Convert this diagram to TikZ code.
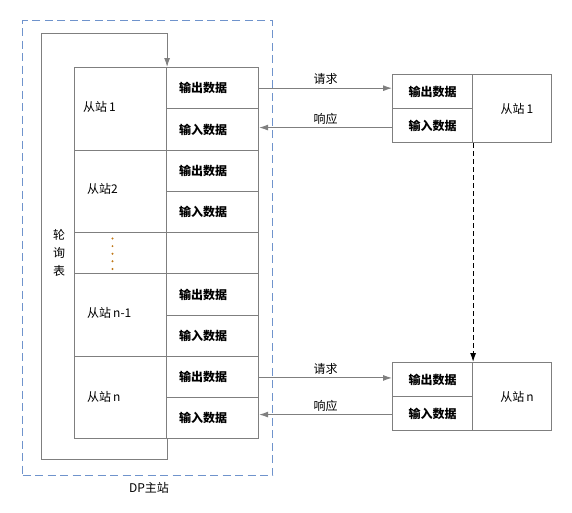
\documentclass[tikz,border=0pt]{standalone}
\usepackage{fontspec}
\setmainfont{Noto Sans CJK SC}
\usetikzlibrary{arrows.meta}
\definecolor{linegray}{HTML}{7F7F7F}
\definecolor{dashblue}{HTML}{6F93CC}
\definecolor{dotorange}{HTML}{C07818}
\tikzset{
  txt/.style={font=\fontsize{12}{14}\selectfont, inner sep=0pt},
  btxt/.style={font=\fontsize{12}{14}\selectfont\bfseries, inner sep=0pt},
  cell/.style={draw=linegray, line width=1.1pt, anchor=north west, inner sep=0pt},
  conn/.style={draw=linegray, line width=1pt, -{Latex[length=9pt,width=6pt]}},
}
\begin{document}
\begin{tikzpicture}[x=1pt,y=-1pt]
\useasboundingbox (0,0) rectangle (572,512);
% master dashed container
\node[draw=dashblue, dash pattern=on 8pt off 4.5pt, line width=1.3pt, minimum width=250pt, minimum height=455pt, anchor=north west, inner sep=0pt] (master) at (22,20) {};
\node[txt] (mlabel) at (149,488) {DP主站};
% left column
\node[cell, minimum width=92pt, minimum height=82.5pt] (s1) at (74,67) {};
\node[cell, minimum width=92pt, minimum height=82.5pt] (s2) at (74,149.5) {};
\node[cell, minimum width=92pt, minimum height=41.25pt] (sd) at (74,232) {};
\node[cell, minimum width=92pt, minimum height=82.5pt] (sn1) at (74,273.25) {};
\node[cell, minimum width=92pt, minimum height=82.5pt] (sn) at (74,355.75) {};
\node[txt, anchor=west] (t1) at (83,107) {从站\,1};
\node[txt, anchor=west] (t2) at (87,189) {从站2};
\node[txt, anchor=west] (t3) at (87,313) {从站\,n-1};
\node[txt, anchor=west] (t4) at (87,397) {从站\,n};
% dots
\foreach \k in {0,...,4} \fill[dotorange] (112.5,238.5+7.6*\k) circle (1.1pt);
% right column cells
\foreach \nm/\i/\lab in {o1/0/输出数据, i1/1/输入数据, o2/2/输出数据, i2/3/输入数据, e/4/, on1/5/输出数据, in1/6/输入数据, on/7/输出数据, in/8/输入数据}{
  \node[cell, minimum width=92pt, minimum height=41.25pt] (\nm) at (166,67+41.25*\i) {};
  \node[btxt, anchor=west] (\nm t) at ([xshift=13pt]\nm.west) {\lab};
}
% polling loop
\node[txt, align=center, font=\fontsize{12}{18}\selectfont] (poll) at (59,253) {轮\\询\\表};
\coordinate (lt) at (41,33);
\draw[conn] (sn.south east) -- ++(0,20) -| (lt) -| (s1.north east);
% slave 1
\node[cell, minimum width=80pt, minimum height=34pt] (a1o) at (392,74) {};
\node[cell, minimum width=80pt, minimum height=34pt] (a1i) at (392,108) {};
\node[cell, minimum width=79pt, minimum height=68pt] (a1) at (472,74) {};
\node[btxt] at (a1o) {输出数据};
\node[btxt] at (a1i) {输入数据};
\node[txt] at ([xshift=5pt]a1.center) {从站\,1};
% slave n
\node[cell, minimum width=80pt, minimum height=34pt] (ano) at (392,362) {};
\node[cell, minimum width=80pt, minimum height=34pt] (ani) at (392,396) {};
\node[cell, minimum width=79pt, minimum height=68pt] (an) at (472,362) {};
\node[btxt] at (ano) {输出数据};
\node[btxt] at (ani) {输入数据};
\node[txt] at ([xshift=5pt]an.center) {从站\,n};
% request / response
\draw[conn] (o1.east) -- (o1.east -| a1o.west) node[txt, midway, above=3pt] (q1) {请求};
\draw[conn] ([yshift=-2pt]a1i.west) -- ([yshift=-2pt]a1i.west -| i1.east) node[txt, midway, above=3pt] (r1) {响应};
\draw[conn] ([yshift=-1pt]on.east) -- ([yshift=-1pt]on.east -| ano.west) node[txt, midway, above=3pt] (q2) {请求};
\draw[conn] ([yshift=-1pt]ani.west) -- ([yshift=-1pt]ani.west -| in.east) node[txt, midway, above=3pt] (r2) {响应};
% dashed link
\draw[black, line width=1.1pt, dash pattern=on 5pt off 3pt, -{Latex[length=9pt,width=6pt]}] (a1i.south east) -- (ano.north east);
\end{tikzpicture}
\end{document}
